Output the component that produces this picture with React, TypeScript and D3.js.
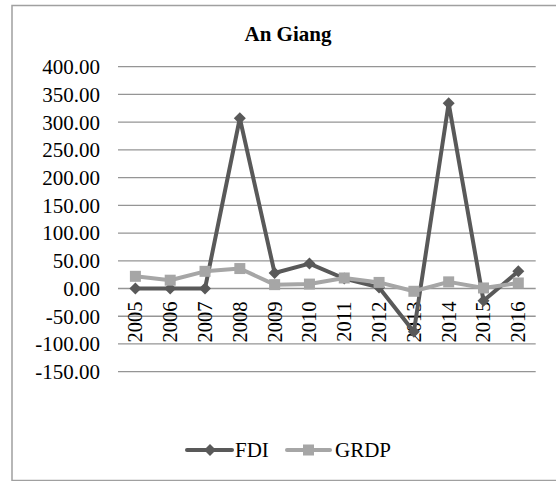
import * as d3 from 'd3'

const years = ['2005', '2006', '2007', '2008', '2009', '2010', '2011', '2012', '2013', '2014', '2015', '2016']
const fdi = [0, 0, 0, 307, 28, 45, 18, 2, -78, 334, -22, 31]
const grdp = [22, 15, 31, 36, 7, 8, 19, 11, -5, 12, 1, 10]
const yTicks = [400, 350, 300, 250, 200, 150, 100, 50, 0, -50, -100, -150]

const W = 556
const H = 481
const FONT = '"Times New Roman", "Liberation Serif", serif'
const FDI_COLOR = '#595959'
const GRDP_COLOR = '#a6a6a6'

const App = () => {
    const x = d3.scaleBand().domain(years).range([118, 535.7])
    const y = d3.scaleLinear().domain([-150, 400]).range([371.7, 66.7])
    const cx = (d: string) => (x(d) ?? 0) + x.bandwidth() / 2

    const line = d3
        .line<number>()
        .x((_, i) => cx(years[i]))
        .y(d => y(d))

    const diamond = (px: number, py: number, r = 6) =>
        `M${px},${py - r}L${px + r},${py}L${px},${py + r}L${px - r},${py}Z`

    return (
        <div style={{ position: 'absolute', left: 0, top: 0 }}>
            <svg width={W} height={H} style={{ display: 'block', background: '#fff' }}>
                {/* chart frame, right edge falls outside the picture */}
                <rect x={12} y={5.5} width={W + 20} height={H - 6} fill="#fff" stroke="#a0a0a0" strokeWidth={1.5} />
                <text x={288} y={41} textAnchor="middle" fontFamily={FONT} fontSize={21} fontWeight="bold">
                    An Giang
                </text>

                {yTicks.map(t => (
                    <g key={t}>
                        <line x1={118} x2={535.7} y1={y(t)} y2={y(t)} stroke="#959595" strokeWidth={1.3} />
                        <text x={100} y={y(t)} dy="0.35em" textAnchor="end" fontFamily={FONT} fontSize={21}>
                            {t.toFixed(2)}
                        </text>
                    </g>
                ))}

                {years.map(yr => (
                    <text
                        key={yr}
                        transform={`translate(${cx(yr) + 7},${y(0) + 13}) rotate(-90)`}
                        textAnchor="end"
                        fontFamily={FONT}
                        fontSize={20.5}
                    >
                        {yr}
                    </text>
                ))}

                <path d={line(fdi) ?? ''} fill="none" stroke={FDI_COLOR} strokeWidth={4} strokeLinejoin="round" />
                {fdi.map((v, i) => (
                    <path key={i} d={diamond(cx(years[i]), y(v))} fill={FDI_COLOR} />
                ))}

                <path d={line(grdp) ?? ''} fill="none" stroke={GRDP_COLOR} strokeWidth={4} strokeLinejoin="round" />
                {grdp.map((v, i) => (
                    <rect key={i} x={cx(years[i]) - 5.5} y={y(v) - 5.5} width={11} height={11} fill={GRDP_COLOR} />
                ))}

                <g>
                    <line x1={187} x2={232} y1={450} y2={450} stroke={FDI_COLOR} strokeWidth={4} strokeLinecap="round" />
                    <path d={diamond(210, 450)} fill={FDI_COLOR} />
                    <text x={235} y={457} fontFamily={FONT} fontSize={21}>FDI</text>
                    <line x1={287} x2={330} y1={450} y2={450} stroke={GRDP_COLOR} strokeWidth={4} strokeLinecap="round" />
                    <rect x={303} y={444.5} width={11} height={11} fill={GRDP_COLOR} />
                    <text x={335} y={457} fontFamily={FONT} fontSize={21}>GRDP</text>
                </g>
            </svg>
        </div>
    )
}

export default App
